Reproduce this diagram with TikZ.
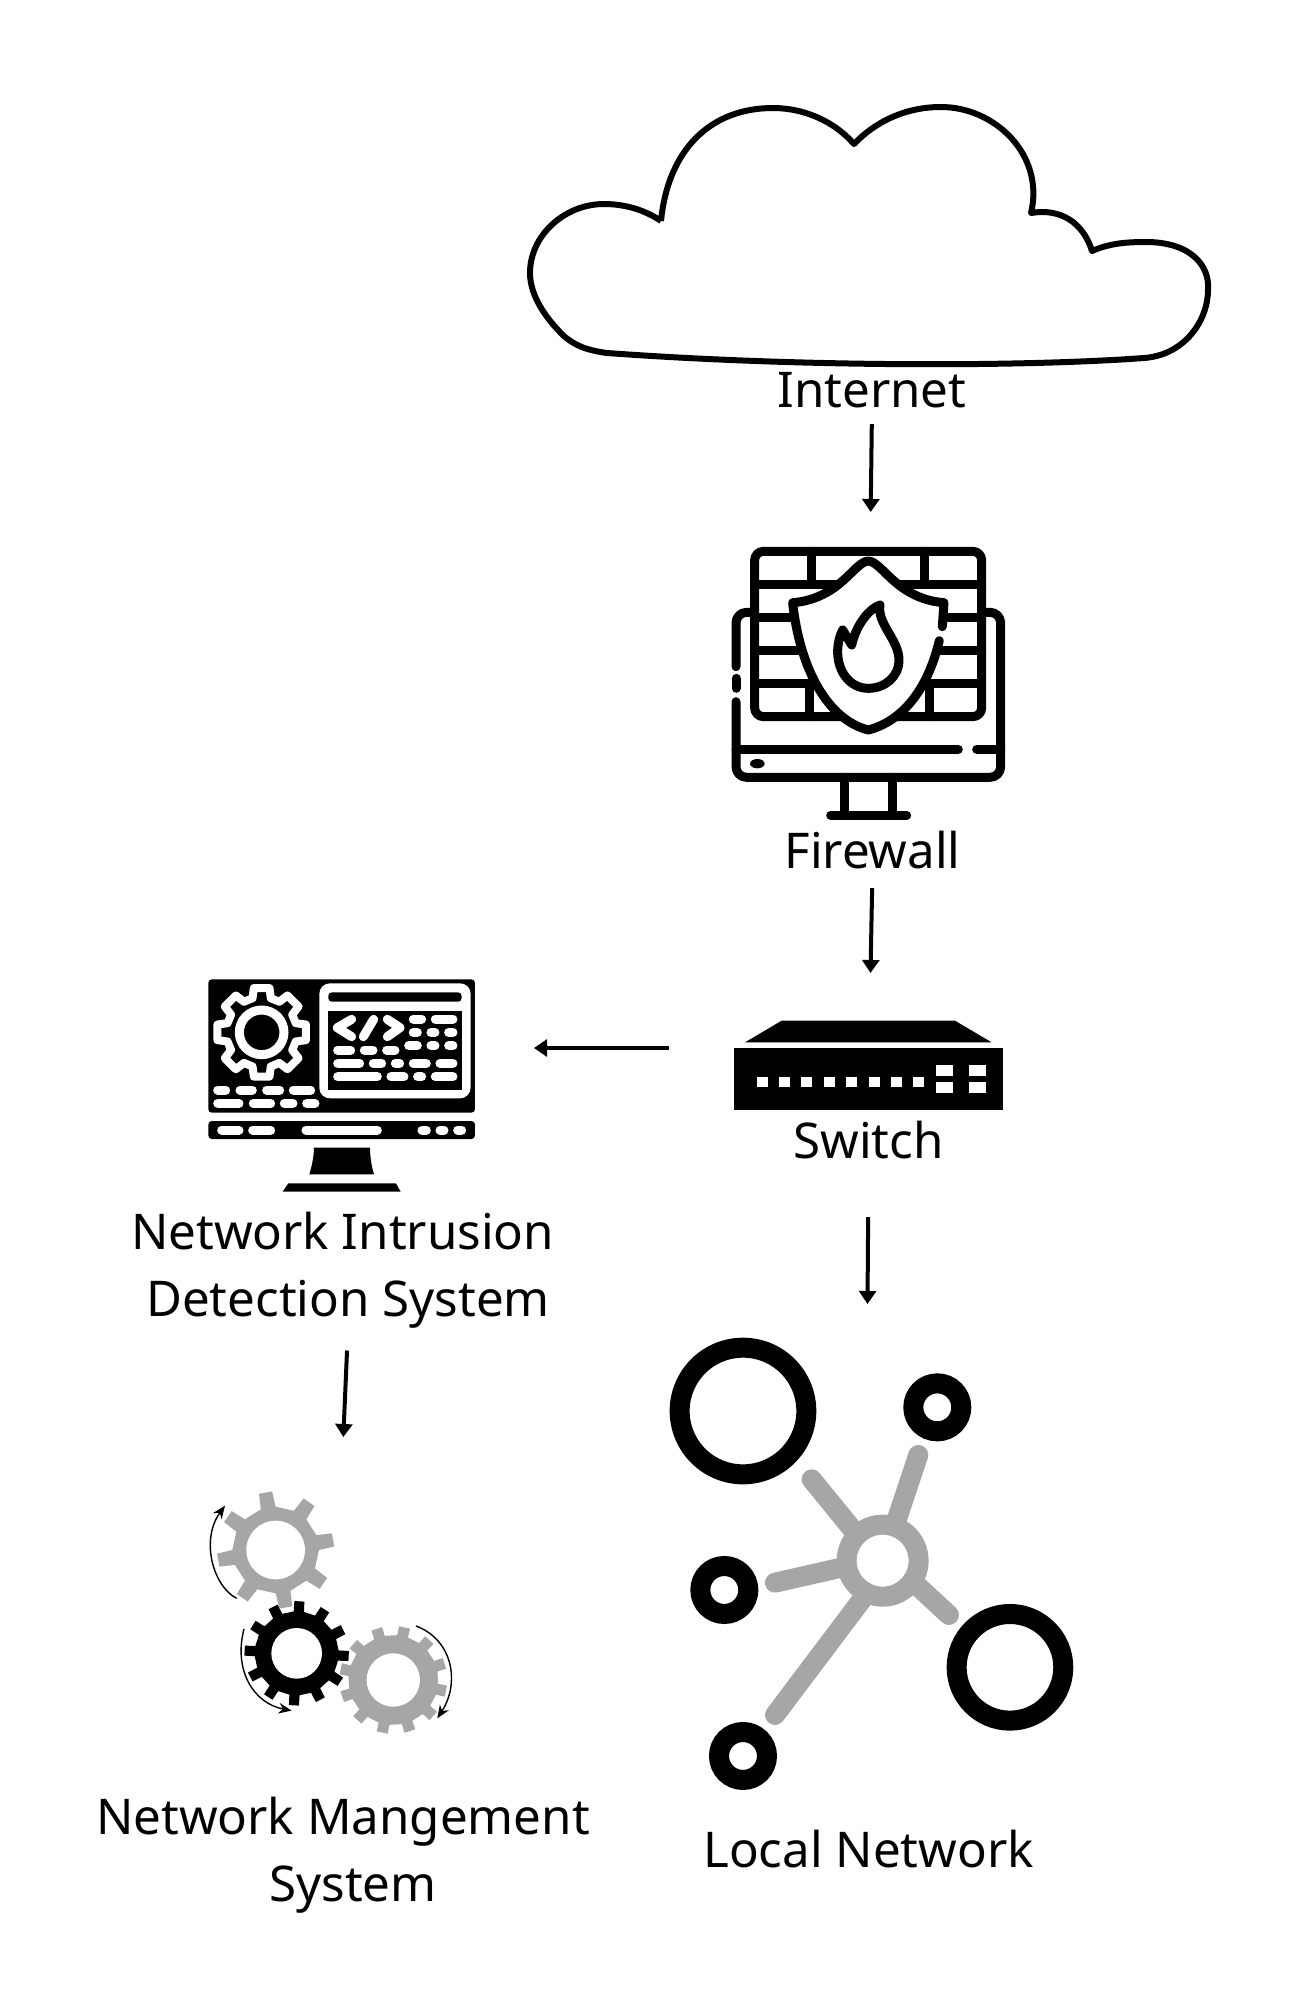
\documentclass[tikz,border=0pt]{standalone}
\usepackage{fontspec}
\setmainfont{Noto Sans}
\usetikzlibrary{arrows.meta}
\definecolor{cogray}{HTML}{A6A6A6}
\def\px{0.01cm}
\tikzstyle{ptlabel} = [anchor=base, color=black, inner sep=0pt, align=center, font={\fontsize{14}{19}\selectfont}]
\tikzstyle{flow} = [line width=4*\px, -{Triangle[length=3.7pt,width=4.8pt]}]
\tikzstyle{turn} = [line width=1.4*\px, -{Stealth[length=3.7pt,width=3pt]}]
\tikzstyle{stroke} = [line width=9*\px, line cap=round, line join=round]
\tikzstyle{ringline} = [line width=20*\px, draw=black]
\tikzstyle{spoke} = [line width=20*\px, draw=cogray, line cap=round]
\tikzstyle{pill} = [line width=9*\px, draw=white, line cap=round]
\tikzstyle{switchbody} = [fill=black, inner sep=0pt, minimum width=268.4*\px, minimum height=61.7*\px]

% #1 style, #2 teeth, #3 root radius, #4 tip radius, #5 half angle at root, #6 half angle at tip, #7 phase
\newcommand{\cog}[7]{
  \path[#1] ({#7-#5}:#3) \foreach \i in {1,...,#2} {
    -- ({#7+360*(\i-1)/#2-#5}:#3) -- ({#7+360*(\i-1)/#2-#6}:#4)
    -- ({#7+360*(\i-1)/#2+#6}:#4) -- ({#7+360*(\i-1)/#2+#5}:#3)
  } -- cycle;
}

\begin{document}
\begin{tikzpicture}[x=0.01cm,y=-0.01cm]
  \useasboundingbox (0,0) rectangle (1315,2011);
  \fill[white] (0,0) rectangle (1315,2011);

  % cloud
  \draw[line width=6*\px, line join=round] (661,221)
    .. controls (668,150) and (710,108) .. (773,108)
    .. controls (805,108) and (835,122) .. (854,144)
    .. controls (875,122) and (905,107) .. (941,107)
    .. controls (995,107) and (1045,155) .. (1031,213)
    .. controls (1060,208) and (1083,222) .. (1092,251)
    .. controls (1110,243) and (1128,242) .. (1146,242)
    .. controls (1190,242) and (1210,265) .. (1208,290)
    .. controls (1208,320) and (1185,355) .. (1144,358)
    .. controls (1020,367) and (800,367) .. (607,353)
    .. controls (585,350) and (575,345) .. (565,337)
    .. controls (545,318) and (530,295) .. (530,273)
    .. controls (530,235) and (565,204) .. (604,204)
    .. controls (625,204) and (645,210) .. (661,221);

  % firewall
  \begin{scope}[shift={(700,520)},scale=0.3333]
    \draw[stroke, rounded corners=2.5pt] (164,94) rectangle (845,590);
    \foreach \y in {192,291,391,490}
      \draw[stroke] (164,\y) -- (845,\y);
    \foreach \x in {335,675}
      \draw[stroke] (\x,94) -- (\x,192);
    \foreach \x in {328,688}
      \draw[stroke] (\x,490) -- (\x,590);
    \draw[stroke, rounded corners=3pt] (150,277) -- (108,277) -- (108,440);
    \draw[stroke] (108,475) -- (108,505);
    \draw[stroke, rounded corners=3pt] (108,545) -- (108,772) -- (902,772) -- (902,277) -- (860,277);
    \draw[stroke] (108,688) -- (775,688);
    \draw[stroke] (830,688) -- (902,688);
    \fill (172,731) ellipse (22 and 14);
    \draw[stroke] (435,772) -- (435,885);
    \draw[stroke] (577,772) -- (577,885);
    \draw[stroke] (392,886) -- (620,886);
    % shield
    \fill[white] (505,123)
      .. controls (530,123) and (560,170) .. (610,205)
      .. controls (650,232) and (690,245) .. (732,248)
      .. controls (732,380) and (625,600) .. (505,630)
      .. controls (385,600) and (300,450) .. (278,248)
      .. controls (320,245) and (360,232) .. (400,205)
      .. controls (450,170) and (480,123) .. (505,123);
    \draw[stroke] (727,320) -- (732,248)
      .. controls (690,245) and (650,232) .. (610,205)
      .. controls (560,170) and (530,123) .. (505,123)
      .. controls (480,123) and (450,170) .. (400,205)
      .. controls (360,232) and (320,245) .. (278,248)
      .. controls (300,450) and (385,600) .. (505,630)
      .. controls (600,605) and (680,520) .. (718,362);
    % flame
    \draw[stroke] (455,375)
      .. controls (470,310) and (510,265) .. (540,255)
      .. controls (530,310) and (597,360) .. (597,420)
      .. controls (597,470) and (555,505) .. (505,505)
      .. controls (450,505) and (413,455) .. (413,395)
      .. controls (413,370) and (420,345) .. (428,330) -- cycle;
  \end{scope}

  % switch
  \node[switchbody] (switch) at (868.5,1079) {};
  \begin{scope}[shift={(720,1000)},scale=0.3333]
    \fill (75,127) -- (185,62) -- (705,62) -- (815,127) -- cycle;
    \foreach \x in {110,177,244,311,379,446,513,580}
      \fill[white] (\x,230) rectangle ++(33,32);
    \foreach \x in {648,748}
      \foreach \y in {195,246}
        \fill[white] (\x,\y) rectangle ++(50,33);
  \end{scope}

  % intrusion detection monitor
  \begin{scope}[shift={(190,960)},scale=0.3333]
    \fill[rounded corners=1pt] (55,58) rectangle (855,458);
    \fill[rounded corners=1pt] (55,483) rectangle (855,537);
    \fill (372,563) -- (540,563) .. controls (540,590) and (545,620) .. (552,643)
      -- (358,643) .. controls (365,620) and (372,590) .. (372,563);
    \fill (295,670) -- (618,670) -- (632,695) -- (278,695) -- cycle;
    \fill[white, rounded corners=3pt] (388,70) rectangle (842,415);
    \fill[rounded corners=1pt] (415,97) rectangle (815,125);
    \fill (415,152) rectangle (815,390);
    \foreach \y/\a/\b in {177/657/708, 177/723/802, 217/657/695, 217/710/748, 217/763/802,
        257/643/695, 257/710/748, 257/763/802, 270/430/495, 270/510/562, 270/577/628,
        310/430/522, 310/537/588, 310/603/642, 310/657/722, 310/737/802,
        350/430/575, 350/590/655, 350/670/708, 350/723/802,
        390/70/120, 390/137/200, 390/217/282, 390/297/375,
        430/70/160, 430/177/255, 430/270/322, 430/337/388,
        510/82/160, 510/175/255, 510/335/575, 510/683/722, 510/737/775, 510/790/828}
      \draw[pill] ({\a+13},\y) -- ({\b-13},\y);
    \draw[pill, line join=round] (485,178) -- (442,203) -- (485,230);
    \draw[pill] (551,178) -- (520,230);
    \draw[pill, line join=round] (592,178) -- (630,203) -- (592,230);
    \begin{scope}[shift={(215,217)}]
      \cog{draw=white, line width=8*\px, line join=round}{8}{106}{135}{15}{10}{0}
      \draw[white, line width=9*\px] (0,0) circle (67);
    \end{scope}
  \end{scope}

  % management gears
  \begin{scope}[shift={(190,1470)},scale=0.3333]
    \begin{scope}[shift={(257,240)}]
      \cog{fill=cogray}{8}{130}{176}{10}{6.5}{-100}
      \fill[white] (0,0) circle (88);
    \end{scope}
    \begin{scope}[shift={(320,550)}]
      \cog{fill=black}{12}{126}{157}{7}{5.5}{3}
      \fill[white] (0,0) circle (76);
    \end{scope}
    \begin{scope}[shift={(610,630)}]
      \cog{fill=cogray}{12}{135}{162}{7}{6}{-18}
      \fill[white] (0,0) circle (80);
    \end{scope}
    \draw[turn] (140,385) .. controls (70,350) and (30,210) .. (105,107);
    \draw[turn] (162,477) .. controls (130,600) and (190,700) .. (305,722);
    \draw[turn] (678,468) .. controls (790,510) and (810,640) .. (742,745);
  \end{scope}

  % local network
  \begin{scope}[shift={(650,1320)},scale=0.3333]
    \draw[spoke] (485,478) -- (605,625);
    \draw[spoke] (805,405) -- (740,600);
    \draw[spoke] (375,788) -- (565,745);
    \draw[spoke] (897,885) -- (805,800);
    \draw[spoke] (375,1185) -- (635,840);
    \draw[line width=20*\px, draw=cogray] (698,722) circle (108);
    \draw[ringline] (279,273) circle (190);
    \draw[ringline] (862,262) circle (72);
    \draw[ringline] (223,810) circle (72);
    \draw[ringline] (1080,1042) circle (160);
    \draw[ringline] (279,1308) circle (72);
  \end{scope}

  % labels
  \node[ptlabel] (internet) at (872,407) {Internet};
  \node[ptlabel] (firewall) at (872.5,868) {Firewall};
  \node[ptlabel] (switchname) at (868.6,1158) {Switch};
  \node[ptlabel] (nids) at (348,1316) {Network Intrusion\kern3.1pt\\Detection System};
  \node[ptlabel] (nms) at (353,1901) {Network Mangement\kern5.7pt\\System};
  \node[ptlabel] (lan) at (868.6,1867) {Local Network};

  % connectors
  \coordinate (firewallin) at (870.7,512);
  \coordinate (switchin) at (870.5,973);
  \coordinate (lanin) at (867.5,1304);
  \coordinate (nidsin) at (534,1048);
  \coordinate (nmsin) at (343.3,1437);
  \draw[flow, shorten <=16*\px] (internet.south) -- (firewallin);
  \draw[flow, shorten <=19*\px] (firewall.south) -- (switchin);
  \draw[flow, shorten <=58*\px] (switchname.south) -- (lanin);
  \draw[flow, shorten <=65*\px] (switch.west |- nidsin) -- (nidsin);
  \draw[flow, shorten <=22*\px] (nids.south) -- (nmsin);
\end{tikzpicture}
\end{document}
